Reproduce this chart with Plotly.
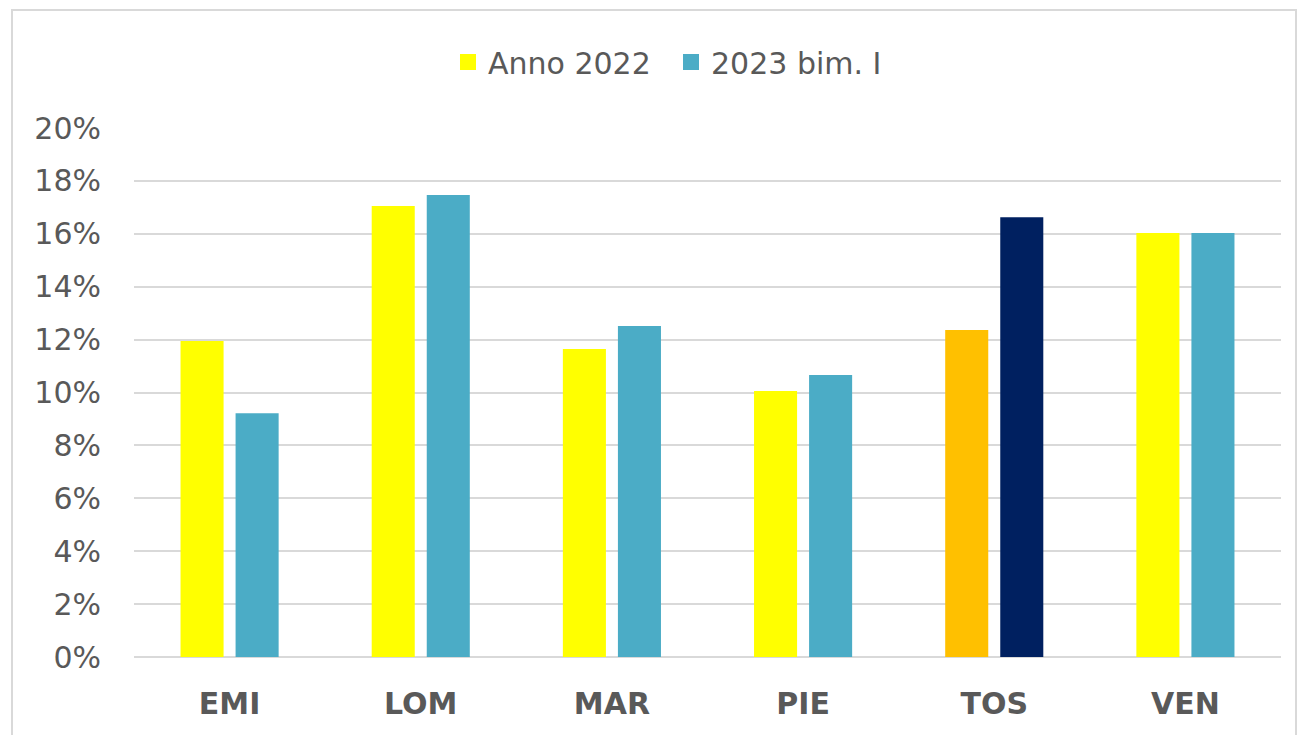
import plotly.graph_objects as go

categories = ["EMI", "LOM", "MAR", "PIE", "TOS", "VEN"]
anno_2022 = [0.1195, 0.1705, 0.1164, 0.1006, 0.1236, 0.1603]
bim_2023 = [0.0922, 0.1747, 0.1251, 0.1066, 0.1663, 0.1603]
ytick_vals = [0, 0.02, 0.04, 0.06, 0.08, 0.10, 0.12, 0.14, 0.16, 0.18, 0.20]
ytick_text = ["0%", "2%", "4%", "6%", "8%", "10%", "12%", "14%", "16%", "18%", "20%"]

c2022 = ["#FFFF00"] * 6
c2023 = ["#4BACC6"] * 6
c2022[4] = "#FFC000"
c2023[4] = "#002060"

W, H = 1299, 735
L, R, T, B = 134, 18, 128, 78
pw, ph = W - L - R, H - T - B

fig = go.Figure()
fig.add_trace(go.Bar(x=categories, y=anno_2022, name="Anno 2022",
                     marker=dict(color=c2022, line=dict(width=0)), showlegend=False))
fig.add_trace(go.Bar(x=categories, y=bim_2023, name="2023 bim. I",
                     marker=dict(color=c2023, line=dict(width=0)), showlegend=False))
# legend proxies
fig.add_trace(go.Scatter(x=[None], y=[None], mode="markers", name="Anno 2022",
                         marker=dict(symbol="square", size=16, color="#FFFF00")))
fig.add_trace(go.Scatter(x=[None], y=[None], mode="markers", name="2023 bim. I",
                         marker=dict(symbol="square", size=16, color="#4BACC6")))

fig.update_layout(
    width=W, height=H,
    margin=dict(l=L, r=R, t=T, b=B, autoexpand=False),
    paper_bgcolor="white", plot_bgcolor="white",
    barmode="group", bargap=0.424, bargroupgap=0.218,
    font=dict(family="DejaVu Sans", color="#595959", size=30),
    legend=dict(orientation="h", x=(671 - L) / pw, xanchor="center",
                y=(H - B - 62) / ph, yanchor="middle",
                font=dict(size=30, color="#595959"), itemsizing="trace",
                itemwidth=30, tracegroupgap=0, entrywidth=178, entrywidthmode="pixels",
                bgcolor="rgba(0,0,0,0)"),
    xaxis=dict(showgrid=False, showline=False, zeroline=False,
               tickfont=dict(family="DejaVu Sans", size=30, color="#595959", weight="bold"),
               ticks="outside", ticklen=20, tickcolor="rgba(0,0,0,0)"),
    yaxis=dict(range=[0, 0.2], tickvals=ytick_vals, ticktext=ytick_text,
               showgrid=True, gridcolor="#D9D9D9", gridwidth=1.5,
               zeroline=True, zerolinecolor="#D9D9D9", zerolinewidth=1.5,
               showline=False, ticks="outside", ticklen=26, tickcolor="rgba(0,0,0,0)",
               tickfont=dict(family="DejaVu Sans", size=30, color="#595959")),
    shapes=[dict(type="rect", xref="paper", yref="paper",
                 x0=(12 - L) / pw, x1=(1296 - L) / pw,
                 y0=(H - B - 760) / ph, y1=(H - B - 10) / ph,
                 line=dict(color="#D9D9D9", width=2), fillcolor="rgba(0,0,0,0)", layer="below")],
)

fig.write_html("out.html")
